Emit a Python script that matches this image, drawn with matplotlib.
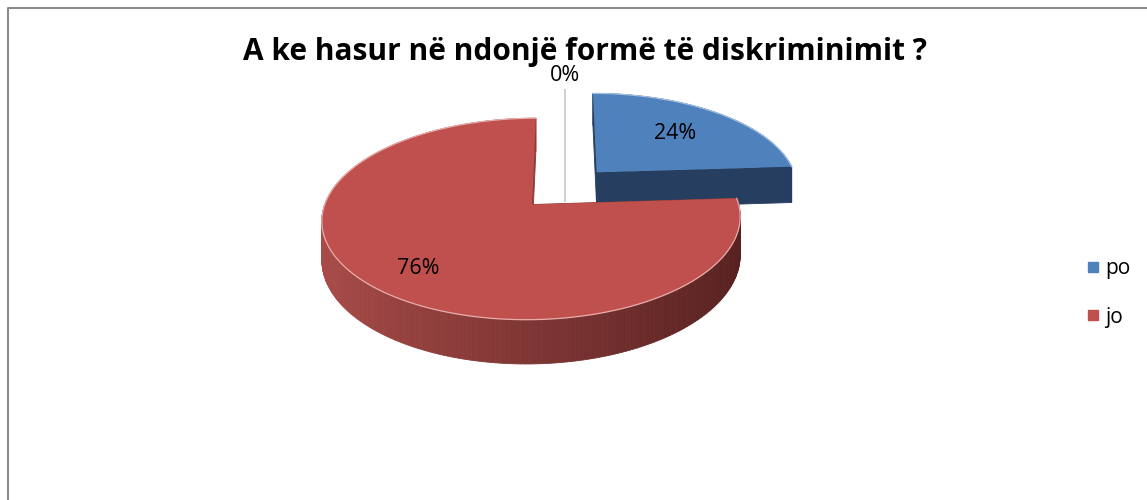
import numpy as np
import matplotlib.pyplot as plt
from matplotlib.patches import Polygon
from matplotlib.lines import Line2D
from matplotlib.colors import to_rgb

plt.rcParams['font.family'] = ['Open Sans', 'DejaVu Sans']

# data
title = 'A ke hasur në ndonjë formë të diskriminimit ?'
categories = ['po', 'jo', '']
values = [24, 76, 0]
top_colors = ['#4f81bd', '#c0504d', '#ffffff']
edge_colors = ['#a3bfe2', '#e8aeac', '#d0d0d0']
side_light = ['#2a4468', '#a84b48', '#d0d0d0']
side_dark = ['#1c2f4a', '#4a1b1a', '#d0d0d0']

# 3d look (pixel space)
cx, cy = 565, 188
rx, ry = 202, 94
persp = 0.14
depth = 37
explode = 0.235

def proj(u, v, z=0.0):
    s = 1.0 / (1.0 - persp * v)
    return cx + rx * u * s, cy + (ry * v + z) * s

def mix(c1, c2, t):
    a, b = np.array(to_rgb(c1)), np.array(to_rgb(c2))
    return tuple(a + (b - a) * t)

fig = plt.figure(figsize=(11.47, 5.0), dpi=100)
ax = fig.add_axes([0, 0, 1, 1])
ax.set_xlim(0, 1147)
ax.set_ylim(500, 0)
ax.axis('off')

# chart border
ax.plot([8, 8, 1147], [500, 8, 8], color='#8c8c8c', lw=1.5)

total = float(sum(values))
slices = []
start = 90.0
for i, v in enumerate(values):
    sweep = 360.0 * v / total
    slices.append((start, start - sweep))
    start -= sweep

# back slice first, front slice last
order = [0, 2, 1]
for i in order:
    t0, t1 = slices[i]
    mid = np.radians((t0 + t1) / 2)
    eu, ew = explode * np.cos(mid), explode * np.sin(mid)
    th = np.radians(np.linspace(t0, t1, max(3, int(abs(t0 - t1)) + 2)))
    rim_u = eu + np.cos(th)
    rim_v = -(ew + np.sin(th))
    au, av = eu, -ew

    sides = []
    # cut faces
    for k in (0, -1):
        pts = [proj(au, av), proj(rim_u[k], rim_v[k]),
               proj(rim_u[k], rim_v[k], depth), proj(au, av, depth)]
        col = mix(side_light[i], side_dark[i], 0.3)
        sides.append(((av + rim_v[k]) / 2, pts, col))
    # outer rim
    for k in range(len(th) - 1):
        pts = [proj(rim_u[k], rim_v[k]), proj(rim_u[k + 1], rim_v[k + 1]),
               proj(rim_u[k + 1], rim_v[k + 1], depth), proj(rim_u[k], rim_v[k], depth)]
        tt = np.clip((rim_u[k] + 1.1) / 2.2, 0, 1)
        col = mix(side_light[i], side_dark[i], tt)
        sides.append(((rim_v[k] + rim_v[k + 1]) / 2, pts, col))
    sides.sort(key=lambda s: s[0])
    for _, pts, col in sides:
        if values[i] == 0:
            ax.add_patch(Polygon(pts, closed=True, facecolor='none',
                                 edgecolor=edge_colors[i], lw=1.2))
        else:
            ax.add_patch(Polygon(pts, closed=True, facecolor=col,
                                 edgecolor=col, lw=0.6))

    if values[i] > 0:
        top = [proj(au, av)] + [proj(a, b) for a, b in zip(rim_u, rim_v)]
        ax.add_patch(Polygon(top, closed=True, facecolor=top_colors[i],
                             edgecolor='none'))
        ax.plot([p[0] for p in top[1:]], [p[1] for p in top[1:]],
                color=edge_colors[i], lw=0.9)

    # percent label
    r = 0.63 if values[i] > 0 else 1.2
    dx, dy = 0, 0
    if values[i] > 40:
        r, dx, dy = 0.76, 6, 5
    lu = eu + r * np.cos(mid)
    lv = -(ew + r * np.sin(mid))
    lx, ly = proj(lu, lv)
    ax.text(lx + dx, ly + dy, '{:.0f}%'.format(100 * values[i] / total),
            ha='center', va='center', fontsize=15.5, color='black')

ax.text(585, 52, title, ha='center', va='center', fontsize=21.5,
        fontweight='bold', color='black')

handles = [Line2D([], [], marker='s', ls='', markersize=7,
                  markerfacecolor=top_colors[i], markeredgecolor=top_colors[i])
           for i in range(len(categories)) if categories[i]]
names = [c for c in categories if c]
fig.legend(handles, names, loc='center left',
           bbox_to_anchor=(1066 / 1147, 1 - 293 / 500), frameon=False,
           fontsize=15, labelspacing=1.3, handlelength=0.8,
           handletextpad=0.2)

fig.savefig('out.png', dpi=100)
